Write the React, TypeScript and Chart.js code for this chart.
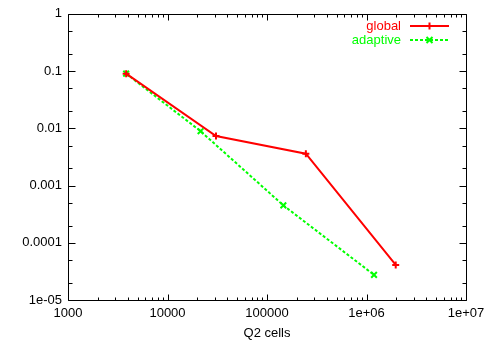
import React, { useEffect, useRef } from "react";
import { Chart, registerables } from "chart.js";

Chart.register(...registerables);

const seriesNames = ["global", "adaptive"];
const globalX = [3840, 30720, 245760, 1966080];
const globalY = [0.09, 0.0073, 0.0036, 4.1e-5];
const adaptiveX = [3840, 21500, 146000, 1190000];
const adaptiveY = [0.09, 0.0089, 0.00045, 2.75e-5];
const xTickValues = [1000, 10000, 100000, 1e6, 1e7];
const xTickLabels = ["1000", "10000", "100000", "1e+06", "1e+07"];
const yTickValues = [1e-5, 1e-4, 1e-3, 1e-2, 1e-1, 1];
const yTickLabels = ["1e-05", "0.0001", "0.001", "0.01", "0.1", "1"];
const xTitle = "Q2 cells";

const FONT = "'Liberation Sans', Arial, Helvetica, sans-serif";
const FS = 13;
const RED = "#ff0000";
const GREEN = "#00ff00";

const framePlugin = {
  id: "gnuframe",
  afterDraw(chart: any) {
    const ctx = chart.ctx;
    const { left, right, top, bottom } = chart.chartArea;
    const xs = chart.scales.x;
    const ys = chart.scales.y;
    ctx.save();
    ctx.strokeStyle = "#000";
    ctx.lineWidth = 1;
    const L = Math.round(left) + 0.5, R = Math.round(right) + 0.5;
    const T = Math.round(top) + 0.5, B = Math.round(bottom) + 0.5;
    ctx.beginPath();
    ctx.rect(L, T, R - L, B - T);
    ctx.stroke();
    ctx.beginPath();
    for (let d = 3; d < 7; d++) {
      for (let m = 1; m <= 9; m++) {
        const v = m * Math.pow(10, d);
        const px = Math.round(xs.getPixelForValue(v)) + 0.5;
        const len = m === 1 ? 6 : 3;
        ctx.moveTo(px, B); ctx.lineTo(px, B - len);
        ctx.moveTo(px, T); ctx.lineTo(px, T + len);
      }
    }
    {
      const px = Math.round(xs.getPixelForValue(1e7)) + 0.5;
      ctx.moveTo(px, B); ctx.lineTo(px, B - 6);
      ctx.moveTo(px, T); ctx.lineTo(px, T + 6);
    }
    for (let d = -5; d <= 0; d++) {
      const mults = d === 0 ? [1] : [1, 2, 5];
      for (const m of mults) {
        const v = m * Math.pow(10, d);
        const py = Math.round(ys.getPixelForValue(v)) + 0.5;
        const len = m === 1 ? 7 : 4;
        ctx.moveTo(L, py); ctx.lineTo(L + len, py);
        ctx.moveTo(R, py); ctx.lineTo(R - len, py);
      }
    }
    ctx.stroke();

    ctx.font = `${FS}px ${FONT}`;
    ctx.textAlign = "right";
    ctx.textBaseline = "middle";
    const rows = [
      { name: seriesNames[0], color: RED, dash: [] as number[], y: 26, style: "plus" },
      { name: seriesNames[1], color: GREEN, dash: [3, 2], y: 40, style: "x" },
    ];
    for (const r of rows) {
      ctx.fillStyle = r.color;
      ctx.fillText(r.name, 401, r.y);
      ctx.strokeStyle = r.color;
      ctx.lineWidth = 2;
      ctx.setLineDash(r.dash);
      ctx.beginPath();
      ctx.moveTo(410, r.y);
      ctx.lineTo(449, r.y);
      ctx.stroke();
      ctx.setLineDash([]);
      const cx = 429.5, cy = r.y, s = 3.5;
      ctx.beginPath();
      if (r.style === "plus") {
        ctx.moveTo(cx - s, cy); ctx.lineTo(cx + s, cy);
        ctx.moveTo(cx, cy - s); ctx.lineTo(cx, cy + s);
      } else {
        s;
        ctx.moveTo(cx - 3, cy - 3); ctx.lineTo(cx + 3, cy + 3);
        ctx.moveTo(cx - 3, cy + 3); ctx.lineTo(cx + 3, cy - 3);
      }
      ctx.stroke();
    }
    ctx.restore();
  },
};

export default function App() {
  const ref = useRef<HTMLCanvasElement | null>(null);
  useEffect(() => {
    document.body.style.margin = "0";
    const canvas = ref.current!;
    const chart = new Chart(canvas, {
      type: "scatter",
      data: {
        datasets: [
          {
            label: seriesNames[0],
            data: globalX.map((x, i) => ({ x, y: globalY[i] })),
            showLine: true,
            borderColor: RED,
            backgroundColor: RED,
            borderWidth: 2,
            pointStyle: "cross",
            pointRadius: 3.5,
            pointBorderWidth: 2,
            pointBorderColor: RED,
          },
          {
            label: seriesNames[1],
            data: adaptiveX.map((x, i) => ({ x, y: adaptiveY[i] })),
            showLine: true,
            borderColor: GREEN,
            backgroundColor: GREEN,
            borderWidth: 2,
            borderDash: [3, 2],
            pointStyle: "crossRot",
            pointRadius: 4,
            pointBorderWidth: 2,
            pointBorderColor: GREEN,
          },
        ],
      },
      options: {
        animation: false,
        responsive: false,
        devicePixelRatio: 1,
        layout: { padding: { top: 13, right: 32, left: 0, bottom: 0 } },
        plugins: { legend: { display: false }, tooltip: { enabled: false } },
        scales: {
          x: {
            type: "logarithmic",
            min: 1000,
            max: 1e7,
            grid: { display: false, drawTicks: false },
            border: { display: false },
            afterBuildTicks: (s: any) => {
              s.ticks = xTickValues.map((v) => ({ value: v }));
            },
            afterFit: (s: any) => {
              s.height = 42;
            },
            ticks: {
              autoSkip: false,
              maxRotation: 0,
              padding: 6,
              color: "#000",
              font: { family: FONT, size: FS },
              callback: (v: any) => {
                const i = xTickValues.indexOf(Number(v));
                return i >= 0 ? xTickLabels[i] : "";
              },
            },
            title: {
              display: true,
              text: xTitle,
              color: "#000",
              font: { family: FONT, size: FS },
              padding: { top: 0, bottom: 1 },
            },
          },
          y: {
            type: "logarithmic",
            min: 1e-5,
            max: 1,
            grid: { display: false, drawTicks: false },
            border: { display: false },
            afterBuildTicks: (s: any) => {
              s.ticks = yTickValues.map((v) => ({ value: v }));
            },
            afterFit: (s: any) => {
              s.width = 68;
            },
            ticks: {
              autoSkip: false,
              padding: 6,
              color: "#000",
              font: { family: FONT, size: FS },
              callback: (v: any) => {
                const i = yTickValues.indexOf(Number(v));
                return i >= 0 ? yTickLabels[i] : "";
              },
            },
          },
        },
      },
      plugins: [framePlugin],
    } as any);
    return () => chart.destroy();
  }, []);
  return <canvas ref={ref} width={498} height={342} style={{ display: "block" }} />;
}
